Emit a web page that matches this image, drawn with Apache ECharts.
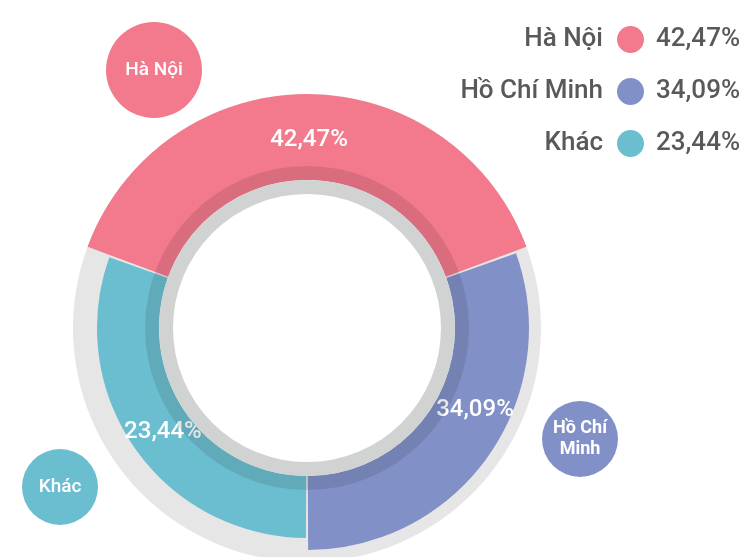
<!DOCTYPE html>
<html>
<head>
<meta charset="utf-8">
<script src="https://cdn.jsdelivr.net/npm/echarts@6/dist/echarts.min.js"></script>
<style>
  html, body { margin: 0; padding: 0; background: #fff; }
  #chart { width: 755px; height: 557px; }
</style>
</head>
<body>
<div id="chart"></div>
<script>
var names = ['Hà Nội', 'Hồ Chí Minh', 'Khác'];
var shares = [42.47, 34.09, 23.44];      // % printed on the chart
var sliceSpans = [140, 110, 110];        // arc sizes as drawn (degrees)
var bubbleText = ['Hà Nội', 'Hồ Chí\nMinh', 'Khác'];

var colors = ['#f27a8c', '#8290c8', '#6bbecf'];
var font = 'Roboto';

function fmt(v) {
  return v.toFixed(2).replace('.', ',') + '%';
}

var center = [307, 328];
var ringOuter = [234, 222, 210];
// small nudges so the labels sit where the original put them
var labelNudge = [
  { pre: '\n', post: '', lh: 11, padL: 4 },
  { pre: '', post: '\n\n', lh: 26, padL: 28 },
  { pre: '', post: '', lh: 26, padL: 10 }
];

// one pie per segment so each can have its own outer radius
var segSeries = names.map(function (n, k) {
  return {
    type: 'pie',
    silent: true,
    center: center,
    radius: [148, ringOuter[k]],
    startAngle: 160,
    padAngle: 0.6,
    avoidLabelOverlap: false,
    labelLine: { show: false },
    z: 2,
    data: names.map(function (name, i) {
      var on = i === k;
      var nd = labelNudge[i];
      return {
        name: name,
        value: sliceSpans[i],
        itemStyle: { color: on ? colors[i] : 'transparent' },
        label: {
          show: on,
          position: 'inside',
          formatter: nd.pre + fmt(shares[i]) + nd.post,
          color: '#fff',
          fontFamily: font,
          fontSize: 24,
          fontWeight: 500,
          lineHeight: nd.lh,
          padding: [0, 0, 0, nd.padL]
        }
      };
    })
  };
});

function ring(r0, r1, color, z) {
  return {
    type: 'pie',
    silent: true,
    center: center,
    radius: [r0, r1],
    z: z,
    label: { show: false },
    labelLine: { show: false },
    data: [{ value: 1, itemStyle: { color: color } }]
  };
}

var legendText = {
  fontFamily: font,
  fontSize: 26,
  fontWeight: 500,
  color: '#595959',
  lineHeight: 27
};

var bubbles = [
  { cx: 154, cy: 70, r: 48 },
  { cx: 580, cy: 439, r: 38 },
  { cx: 60, cy: 487, r: 38 }
];

var chart = echarts.init(document.getElementById('chart'));
chart.setOption({
  backgroundColor: '#fff',
  animation: false,
  legend: [
    {
      orient: 'vertical',
      right: 106,
      top: 21,
      align: 'right',
      icon: 'circle',
      itemWidth: 27,
      itemHeight: 27,
      itemGap: 25,
      selectedMode: false,
      textStyle: Object.assign({ padding: [0, 9, 0, 0] }, legendText),
      data: names.map(function (n, i) {
        return { name: n, itemStyle: { color: colors[i] } };
      })
    },
    {
      orient: 'vertical',
      left: 645,
      top: 21,
      icon: 'circle',
      itemWidth: 1,
      itemHeight: 27,
      itemGap: 25,
      selectedMode: false,
      formatter: function (n) {
        return fmt(shares[names.indexOf(n)]);
      },
      textStyle: legendText,
      data: names.map(function (n) {
        return { name: n, itemStyle: { opacity: 0 } };
      })
    }
  ],
  graphic: bubbles.map(function (b, i) {
    return {
      type: 'circle',
      silent: true,
      shape: { cx: b.cx, cy: b.cy, r: b.r },
      style: { fill: colors[i] },
      textContent: {
        style: {
          text: bubbleText[i],
          fill: '#fff',
          font: (i === 1 ? 'bold 18px ' : '500 19px ') + font,
          lineHeight: 21,
          align: 'center'
        }
      },
      textConfig: { position: 'inside' }
    };
  }),
  series: [ring(148, 234, '#e6e6e6', 1)]
    .concat(segSeries)
    .concat([
      ring(148, 162, 'rgba(0,0,0,0.1)', 3),
      ring(134, 148, '#d1d3d2', 3)
    ])
});
</script>
</body>
</html>
